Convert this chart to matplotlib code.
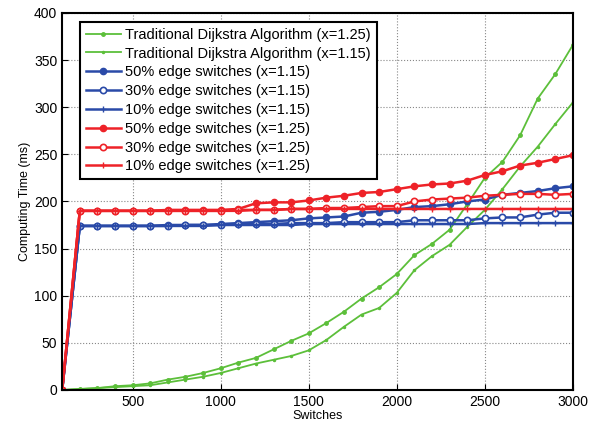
import numpy as np
import matplotlib
matplotlib.use("Agg")
import matplotlib.pyplot as plt

plt.rcParams['font.family'] = ['Liberation Sans', 'DejaVu Sans']

switches = list(range(100, 3001, 100))

# Traditional Dijkstra
dij_125 = [0, 1, 2, 4, 5, 7, 11, 14, 18, 23, 29, 34, 43, 52, 60, 71, 83, 97, 109, 123,
           143, 155, 170, 197, 225, 242, 270, 309, 335, 366]
dij_115 = [0, 1, 2, 3, 4, 5, 8, 11, 14, 18, 23, 28, 32, 36, 42, 53, 67, 80, 87, 103,
           127, 142, 154, 173, 191, 213, 237, 258, 282, 305]

# x = 1.15 (blue)
b50 = [0, 174, 174, 174, 174, 174, 175, 175, 175, 176, 177, 178, 179, 180, 182, 183,
       184, 188, 189, 191, 194, 195, 197, 200, 202, 207, 209, 211, 214, 216]
b30 = [0, 174, 174, 174, 174, 174, 174, 175, 175, 175, 176, 176, 176, 177, 177, 177,
       178, 178, 178, 178, 180, 180, 180, 180, 182, 183, 183, 186, 188, 188]
b10 = [0, 174, 174, 174, 174, 174, 174, 174, 174, 175, 175, 175, 175, 175, 176, 176,
       176, 176, 176, 176, 176, 176, 176, 176, 177, 177, 177, 177, 177, 177]

# x = 1.25 (red)
r50 = [0, 190, 190, 190, 190, 190, 191, 191, 191, 191, 192, 198, 199, 199, 201, 204,
       206, 209, 210, 213, 216, 218, 219, 222, 228, 232, 238, 241, 245, 249]
r30 = [0, 190, 190, 190, 190, 190, 190, 190, 190, 190, 191, 191, 191, 192, 192, 193,
       193, 194, 195, 195, 200, 202, 203, 204, 206, 207, 208, 208, 207, 208]
r10 = [0, 190, 190, 190, 190, 190, 190, 190, 190, 190, 190, 191, 191, 192, 192, 192,
       192, 192, 192, 192, 192, 192, 192, 192, 192, 192, 192, 192, 192, 192]

green = '#5cbf3a'
blue = '#2a4aa8'
red = '#ee2228'

fig = plt.figure(figsize=(5.98, 4.29), dpi=100)
ax = fig.add_axes([0.104, 0.091, 0.854, 0.879])

ax.plot(switches, dij_125, color=green, marker='.', ms=5, lw=1.3,
        label='Traditional Dijkstra Algorithm (x=1.25)')
ax.plot(switches, dij_115, color=green, marker='.', ms=3, lw=1.3,
        label='Traditional Dijkstra Algorithm (x=1.15)')
ax.plot(switches, b50, color=blue, marker='o', ms=4.5, lw=1.8,
        label='50% edge switches (x=1.15)')
ax.plot(switches, b30, color=blue, marker='o', ms=4.5, mfc='white', mew=1.2, lw=1.8,
        label='30% edge switches (x=1.15)')
ax.plot(switches, b10, color=blue, marker='+', ms=4, lw=1.8,
        label='10% edge switches (x=1.15)')
ax.plot(switches, r50, color=red, marker='o', ms=4.5, lw=1.8,
        label='50% edge switches (x=1.25)')
ax.plot(switches, r30, color=red, marker='o', ms=4.5, mfc='white', mew=1.2, lw=1.8,
        label='30% edge switches (x=1.25)')
ax.plot(switches, r10, color=red, marker='+', ms=4, lw=1.8,
        label='10% edge switches (x=1.25)')

ax.set_xlim(100, 3000)
ax.set_ylim(0, 400)
ax.set_xticks([500, 1000, 1500, 2000, 2500, 3000])
ax.set_yticks(range(0, 401, 50))
ax.grid(True, linestyle=':', color='#888888', lw=0.8)
ax.tick_params(labelsize=10, direction='in', length=4)
for s in ax.spines.values():
    s.set_linewidth(1.5)

ax.set_xlabel('Switches', fontsize=9, labelpad=1)
ax.set_ylabel('Computing Time (ms)', fontsize=9, labelpad=2)

leg = ax.legend(loc='upper left', fontsize=10.5, handlelength=2.4, handletextpad=0.3,
                labelspacing=0.33, borderpad=0.4, borderaxespad=0, fancybox=False,
                framealpha=1, bbox_to_anchor=(0.035, 0.976))
leg.get_frame().set_edgecolor('black')
leg.get_frame().set_linewidth(1.5)

fig.savefig('out.png', dpi=100)
